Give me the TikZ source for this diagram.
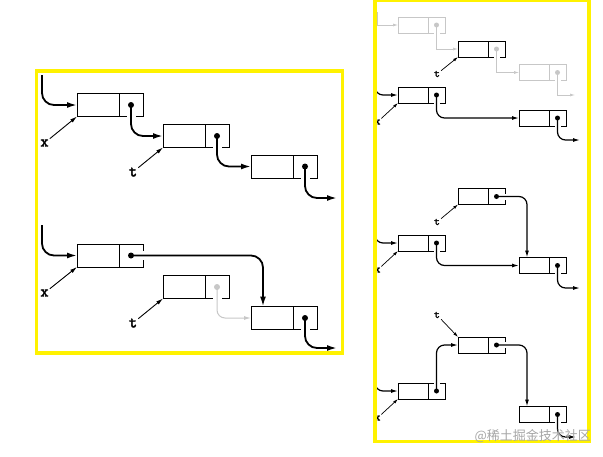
\documentclass[tikz,border=0pt]{standalone}
\usepackage{fontspec}
\usepackage{tikz}
\usetikzlibrary{positioning,arrows.meta}
\newfontfamily\cjk{Noto Sans CJK SC}
\newfontfamily\lblfont{Latin Modern Mono}[FakeBold=2.5]
\colorlet{faint}{black!22}
\begin{document}
\begin{tikzpicture}[
x=1pt,y=-1pt,
frame/.style={draw=yellow,line width=3.5pt},
item/.style={
  draw,
  minimum width=42pt,minimum height=23pt,
  inner sep=0pt,outer sep=0pt,line width=1pt
  },
ptr/.style={item,minimum width=24pt},
sitem/.style={
  draw,
  minimum width=30pt,minimum height=16pt,
  inner sep=0pt,outer sep=0pt,line width=0.8pt
  },
sptr/.style={sitem,minimum width=17pt},
faded/.style={draw=faint},
link/.style={-{Latex[length=10pt,width=6pt]},line width=1.8pt,rounded corners=12pt},
slink/.style={-{Latex[length=7pt,width=4pt]},line width=1.2pt,rounded corners=8pt},
tag/.style={-{Latex[length=7pt,width=4pt]},line width=0.9pt},
stag/.style={-{Latex[length=5pt,width=3pt]},line width=0.7pt},
varname/.style={font=\lblfont\fontsize{16}{16}\selectfont,inner sep=1pt},
svarname/.style={font=\lblfont\fontsize{11}{11}\selectfont,inner sep=1pt},
gap/.style={draw=white,line width=9pt,shorten >=-2pt},
sgap/.style={draw=white,line width=6pt,shorten >=-2pt}
]
\useasboundingbox (0,0) rectangle (603,456);
% frame
\draw[frame] (36.5,71) rectangle (342.5,353);

% left panel, before
\node[item] (a1) at (98,105) {};
\node[ptr,right=0pt of a1] (a1p) {};
\node[item] (b1) at (184,136) {};
\node[ptr,right=0pt of b1] (b1p) {};
\node[item] (c1) at (272,166.5) {};
\node[ptr,right=0pt of c1] (c1p) {};
% left panel, after
\node[item] (a2) at (98,255.5) {};
\node[ptr,right=0pt of a2] (a2p) {};
\node[item] (b2) at (184,287) {};
\node[ptr,right=0pt of b2] (b2p) {};
\node[item] (c2) at (272,318) {};
\node[ptr,right=0pt of c2] (c2p) {};

% right panel
\node[sitem,faded] (g1) at (413,25) {};
\node[sptr,faded,right=0pt of g1] (g1p) {};
\node[sitem] (t3) at (473,49) {};
\node[sptr,right=0pt of t3] (t3p) {};
\node[sitem,faded] (g2) at (534,72.5) {};
\node[sptr,faded,right=0pt of g2] (g2p) {};
\node[sitem] (a3) at (413,95) {};
\node[sptr,right=0pt of a3] (a3p) {};
\node[sitem] (b3) at (534,118) {};
\node[sptr,right=0pt of b3] (b3p) {};

\node[sitem] (t4) at (473,196.5) {};
\node[sptr,right=0pt of t4] (t4p) {};
\node[sitem] (a4) at (413,243) {};
\node[sptr,right=0pt of a4] (a4p) {};
\node[sitem] (b4) at (534,265.5) {};
\node[sptr,right=0pt of b4] (b4p) {};

\node[sitem] (t5) at (473,345) {};
\node[sptr,right=0pt of t5] (t5p) {};
\node[sitem] (a5) at (413,391) {};
\node[sptr,right=0pt of a5] (a5p) {};
\node[sitem] (b5) at (534,414.5) {};
\node[sptr,right=0pt of b5] (b5p) {};

% openings where the links leave
\foreach \n/\s in {a1p/south,b1p/south,c1p/south,a2p/east,b2p/south,c2p/south}
  \draw[gap] (\n.center) -- (\n.\s);
\foreach \n/\s in {g1p/south,t3p/south,g2p/south,a3p/south,b3p/south,
  t4p/east,a4p/south,b4p/south,t5p/east,a5p/north,b5p/south}
  \draw[sgap] (\n.center) -- (\n.\s);

% free ends
\coordinate (in1) at (42,75);
\coordinate (out1) at (337,198);
\coordinate (in2) at (42,225);
\coordinate (out2) at (337,348);
\coordinate (gin) at (377,12);
\coordinate (gout) at (575,95);
\coordinate (in3) at (375,73);
\coordinate (out3) at (580,140);
\coordinate (in4) at (375,220);
\coordinate (out4) at (580,288);
\coordinate (in5) at (375,370);
\coordinate (out5) at (576,437);

% links, left
\draw[link] (in1) |- (a1.west);
\draw[link] (a1p.center) |- (b1.west);
\draw[link] (b1p.center) |- (c1.west);
\draw[link] (c1p.center) |- (out1);
\draw[link] (in2) |- (a2.west);
\draw[link] (a2p.center) -| ([xshift=12pt]c2.north west);
\draw[slink,faint,line width=1pt] (b2p.center) |- (c2.west);
\draw[link] (c2p.center) |- (out2);

% links, right
\draw[stag,faint] (gin) |- (g1.west);
\draw[stag,faint] (g1p.center) |- (t3.west);
\draw[stag,faint] (t3p.center) |- (g2.west);
\draw[stag,faint] (g2p.center) |- (gout);
\draw[slink] (in3) |- (a3.west);
\draw[slink] (a3p.center) |- (b3.west);
\draw[slink] (b3p.center) |- (out3);

\draw[slink] (in4) |- (a4.west);
\draw[slink] (a4p.center) |- (b4.west);
\draw[slink] (t4p.center) -| ([xshift=8pt]b4.north west);
\draw[slink] (b4p.center) |- (out4);

\draw[slink] (in5) |- (a5.west);
\draw[slink] (a5p.center) |- (t5.west);
\draw[slink] (t5p.center) -| ([xshift=8pt]b5.north west);
\draw[slink] (b5p.center) |- (out5);

% dots
\foreach \n in {a1p,b1p,c1p,a2p,c2p}
  \fill (\n.center) circle (3);
\fill[faint] (b2p.center) circle (3);
\foreach \n in {a3p,b3p,t4p,a4p,b4p,t5p,a5p,b5p}
  \fill (\n.center) circle (2.5);
\foreach \n in {g1p,t3p,g2p}
  \fill[faint] (\n.center) circle (2.5);

% names
\node[varname] (x1) at (44.5,143) {x};
\node[varname] (t1) at (133,172) {t};
\node[varname] (x2) at (44.5,293) {x};
\node[varname] (t2) at (133,323) {t};
\draw[tag] (x1) -- (a1.south west);
\draw[tag] (t1) -- (b1.south west);
\draw[tag] (x2) -- (a2.south west);
\draw[tag] (t2) -- (b2.south west);

\node[svarname] (tr3) at (437,74) {t};
\node[svarname] (xr3) at (377.5,122) {x};
\node[svarname] (tr4) at (437,222) {t};
\node[svarname] (xr4) at (377.5,270) {x};
\node[svarname] (tr5) at (437,315) {t};
\node[svarname] (xr5) at (377.5,418) {x};
\draw[stag] (tr3) -- (t3.south west);
\draw[stag] (xr3) -- (a3.south west);
\draw[stag] (tr4) -- (t4.south west);
\draw[stag] (xr4) -- (a4.south west);
\draw[stag] (tr5) -- (t5.north west);
\draw[stag] (xr5) -- (a5.south west);

% right frame on top
\draw[frame] (375,0) rectangle (589,441.5);

\node[anchor=east,text=black!35,font=\cjk\fontsize{13}{13}\selectfont,inner sep=0pt] (wm) at (591,436) {@稀土掘金技术社区};
\end{tikzpicture}
\end{document}
